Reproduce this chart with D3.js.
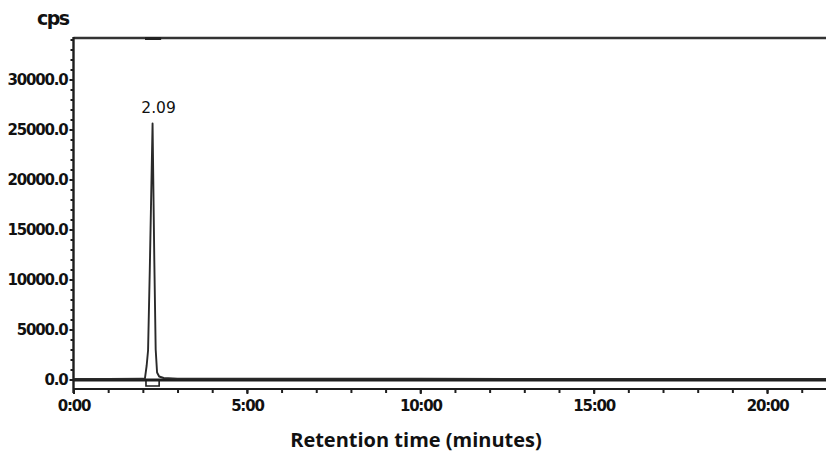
<!DOCTYPE html>
<html>
<head>
<meta charset="utf-8">
<script src="https://cdn.jsdelivr.net/npm/d3@7"></script>
<style>
  html, body { margin: 0; padding: 0; background: #fff; }
  svg { display: block; }
  .tick-label { font-family: "DejaVu Sans", sans-serif; font-weight: 700; font-size: 15px; letter-spacing: -1.2px; fill: #111; }
</style>
</head>
<body>
<svg id="chart" width="826" height="453"></svg>
<script>
// Chromatogram trace: retention time (minutes) and intensity (cps)
const times = [0, 1.0, 2.0, 2.06, 2.11, 2.15, 2.2, 2.28, 2.33, 2.37, 2.41, 2.47, 2.6, 3.0, 5, 10, 15, 20, 21.7];
const cps   = [60, 60, 70, 120, 1400, 2900, 11000, 25600, 12000, 3000, 700, 300, 150, 90, 80, 70, 60, 60, 60];

// Peak annotation and integration window (minutes)
const peakLabels = ["2.09"];
const peakApex = [2.28];
const peakApexCps = [25600];
const peakWindow = [2.09, 2.47];

// Axis ticks
const yMajorTicks = [0, 5000, 10000, 15000, 20000, 25000, 30000];
const yMinorTicks = d3.range(0, 35000, 1000);
const xMajorTicks = [0, 5, 10, 15, 20];
const xMinorTicks = d3.range(0, 22, 1);

const svg = d3.select("#chart");
const ink = "#1e1e1e";

const x = d3.scaleLinear().domain([0, 21.7]).range([73.5, 826]);
const y = d3.scaleLinear().domain([0, 34150]).range([379.5, 38]);
const xAxisY = 389;

// top frame line
svg.append("line")
  .attr("x1", x(0)).attr("x2", 826)
  .attr("y1", y(34150)).attr("y2", y(34150))
  .attr("stroke", "#333").attr("stroke-width", 2.5);

// peak marker on the top frame
svg.append("line")
  .attr("x1", x(peakWindow[0]) - 1).attr("x2", x(peakWindow[1]) + 2)
  .attr("y1", y(34150) + 0.5).attr("y2", y(34150) + 0.5)
  .attr("stroke", "#222").attr("stroke-width", 3);

// y axis: minor ticks
const yMinor = d3.axisLeft(y).tickValues(yMinorTicks).tickSize(3).tickFormat("");
svg.append("g").attr("transform", `translate(${x(0)},0)`).call(yMinor)
  .call(g => g.select(".domain").remove())
  .call(g => g.selectAll(".tick line").attr("stroke", ink).attr("stroke-width", 2));

// y axis: major ticks and labels
const yMajor = d3.axisLeft(y).tickValues(yMajorTicks).tickSize(4).tickPadding(2).tickFormat(d3.format(".1f"));
svg.append("g").attr("transform", `translate(${x(0)},0)`).call(yMajor)
  .call(g => g.select(".domain").remove())
  .call(g => g.selectAll(".tick line").attr("stroke", ink).attr("stroke-width", 2))
  .call(g => g.selectAll(".tick text").attr("class", "tick-label").attr("dy", "0.36em"));

// y axis line
svg.append("line")
  .attr("x1", x(0)).attr("x2", x(0))
  .attr("y1", y(34150) - 1).attr("y2", xAxisY + 4)
  .attr("stroke", ink).attr("stroke-width", 2.4);

// x axis line
svg.append("line")
  .attr("x1", x(0)).attr("x2", 826)
  .attr("y1", xAxisY).attr("y2", xAxisY)
  .attr("stroke", ink).attr("stroke-width", 2);

// x axis minor ticks
const xMinor = d3.axisBottom(x).tickValues(xMinorTicks).tickSize(4).tickFormat("");
svg.append("g").attr("transform", `translate(0,${xAxisY})`).call(xMinor)
  .call(g => g.select(".domain").remove())
  .call(g => g.selectAll(".tick line").attr("stroke", ink).attr("stroke-width", 2));

// x axis labels (mm:ss)
const xMajor = d3.axisBottom(x).tickValues(xMajorTicks).tickSize(5).tickPadding(6)
  .tickFormat(d => `${d}:00`);
svg.append("g").attr("transform", `translate(0,${xAxisY})`).call(xMajor)
  .call(g => g.select(".domain").remove())
  .call(g => g.selectAll(".tick line").attr("stroke", ink).attr("stroke-width", 2))
  .call(g => g.selectAll(".tick text").attr("class", "tick-label"));

// integration baseline at zero
svg.append("line")
  .attr("x1", x(0)).attr("x2", 826)
  .attr("y1", y(0) + 0.5).attr("y2", y(0) + 0.5)
  .attr("stroke", ink).attr("stroke-width", 3);

// integration window box under the peak
svg.append("path")
  .attr("d", `M${x(peakWindow[0])},${y(0)} V${xAxisY - 3} H${x(peakWindow[1])} V${y(0)}`)
  .attr("fill", "none").attr("stroke", ink).attr("stroke-width", 1.6);

// chromatogram trace
const line = d3.line().x(d => x(d[0])).y(d => y(d[1]));
svg.append("path")
  .datum(times.map((t, i) => [t, cps[i]]))
  .attr("d", line)
  .attr("fill", "none").attr("stroke", "#2a2a2a").attr("stroke-width", 1.9)
  .attr("stroke-linejoin", "round");

// peak label
svg.selectAll(".peak-label").data(peakLabels).enter().append("text")
  .attr("class", "peak-label")
  .attr("x", (d, i) => x(peakApex[i]) + 6)
  .attr("y", (d, i) => y(peakApexCps[i]) - 11)
  .attr("text-anchor", "middle")
  .attr("font-family", "DejaVu Sans, sans-serif").attr("font-size", 15.5)
  .attr("fill", "#111")
  .text(d => d);

// unit label
svg.append("text")
  .attr("x", 37).attr("y", 25)
  .attr("font-family", "DejaVu Sans, sans-serif").attr("font-weight", 700)
  .attr("font-size", 19).attr("letter-spacing", "-1.6px").attr("fill", "#111")
  .text("cps");

// x axis title
svg.append("text")
  .attr("x", 416).attr("y", 447)
  .attr("text-anchor", "middle")
  .attr("font-family", "Open Sans, sans-serif").attr("font-weight", 700)
  .attr("font-size", 20).attr("fill", "#111")
  .text("Retention time (minutes)");
</script>
</body>
</html>
